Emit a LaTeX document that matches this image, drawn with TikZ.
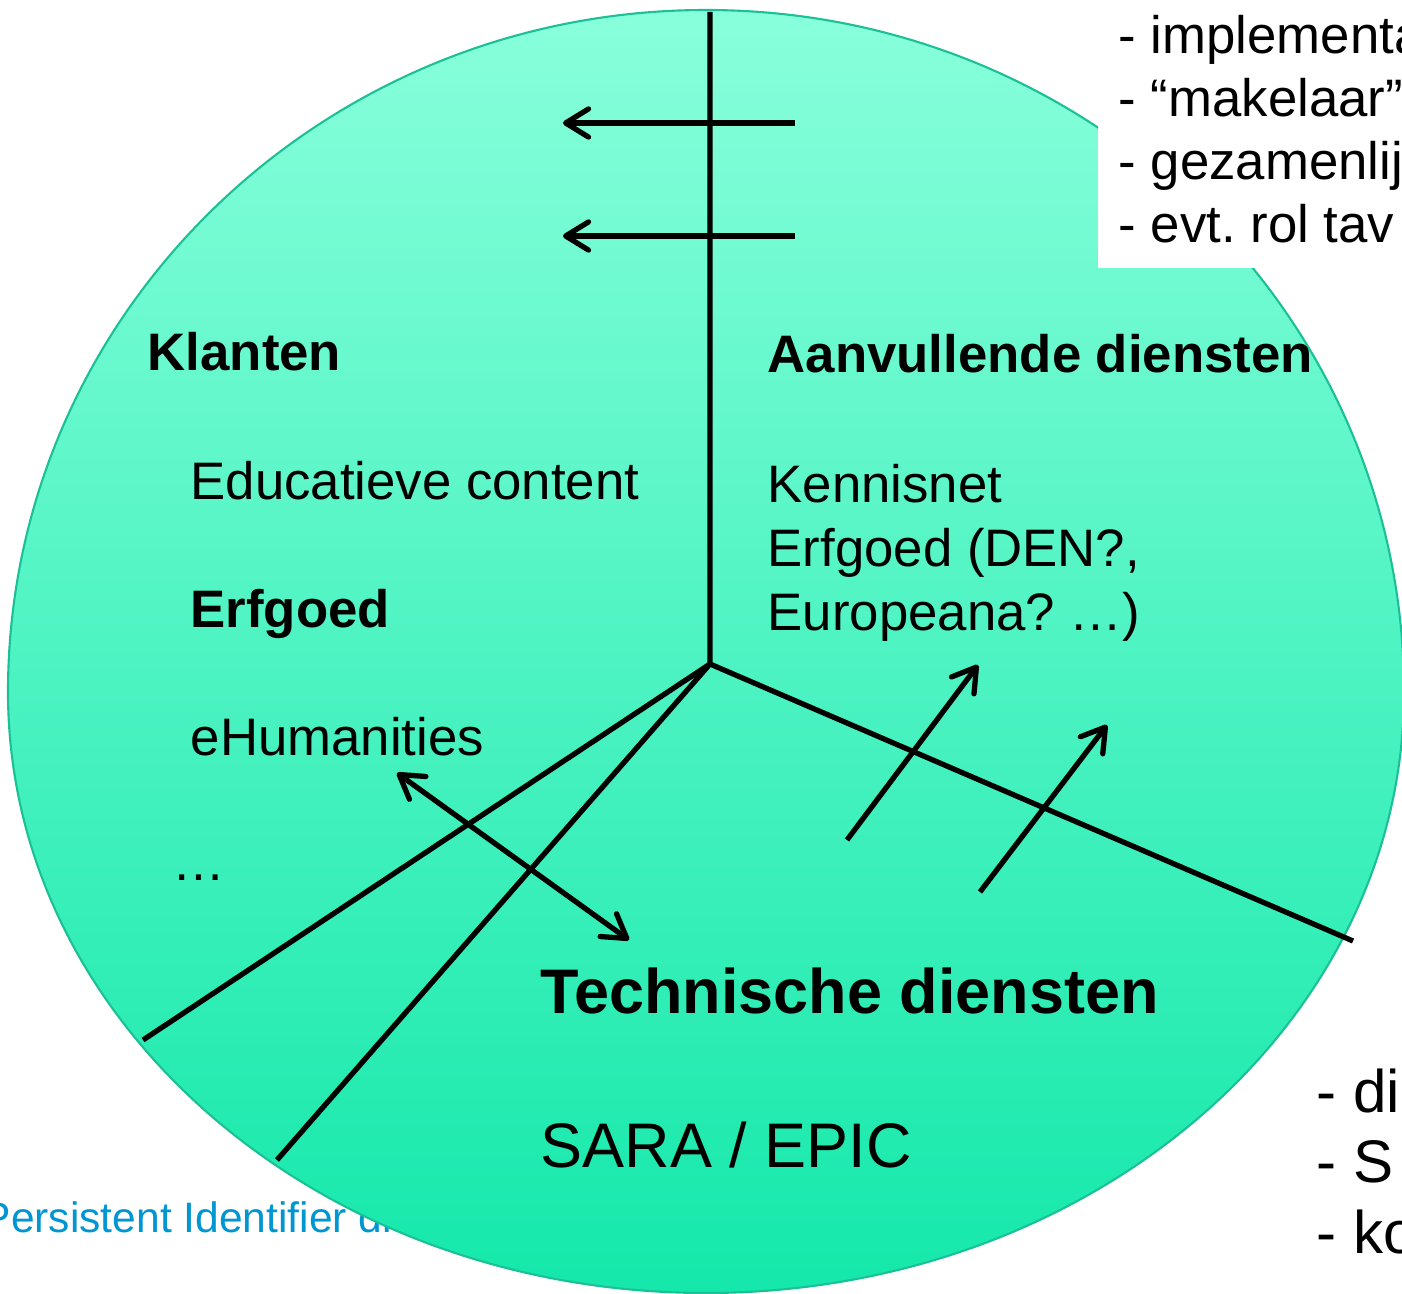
\documentclass[tikz,border=0pt]{standalone}
\usepackage{fontspec}
\setmainfont{Liberation Sans}
\usetikzlibrary{arrows.meta}
\frenchspacing

\definecolor{topgreen}{RGB}{136,255,219}
\definecolor{botgreen}{RGB}{20,232,170}
\definecolor{rimgreen}{RGB}{28,192,150}
\definecolor{pidblue}{RGB}{0,150,210}

\begin{document}
\begin{tikzpicture}[x=0.01cm, y=-0.01cm,
	lbl/.style={anchor=base west, inner sep=0pt, font=\fontsize{15}{18}\selectfont},
	head/.style={anchor=base west, inner sep=0pt, font=\fontsize{15}{18}\selectfont\bfseries},
	big/.style={anchor=base west, inner sep=0pt, font=\fontsize{17.9}{21.5}\selectfont},
	bighead/.style={big, font=\fontsize{17.9}{21.5}\selectfont\bfseries},
	side/.style={anchor=base west, inner sep=0pt, font=\fontsize{17.1}{20.5}\selectfont},
	spoke/.style={line width=1.5pt},
	flow/.style={-{Straight Barb[length=6.5pt,width=8pt,round]}},
	both/.style={{Straight Barb[length=6.5pt,width=8pt,round]}-{Straight Barb[length=6.5pt,width=8pt,round]}}]

	\useasboundingbox (0,0) rectangle (1402,1294);

	% text behind the sphere
	\node[anchor=base west, inner sep=0pt, text=pidblue, font=\fontsize{12.1}{14.5}\selectfont] (pid) at (-18,1232) {Persistent Identifier di};

	% the sphere
	\shade[top color=topgreen, bottom color=botgreen, draw=rimgreen, line width=0.6pt]
		(8,692) arc[start angle=180, end angle=360, x radius=698, y radius=682]
		arc[start angle=0, end angle=180, x radius=698, y radius=601] -- cycle;

	% box top right
	\fill[white] (1098,0) rectangle (1402,268);
	\node[lbl] (task1) at (1118,54) {- implementa};
	\node[lbl] (task2) at (1118,117) {- “makelaar”};
	\node[lbl] (task3) at (1118,180) {- gezamenlij};
	\node[lbl] (task4) at (1118,243) {- evt. rol tav};

	\node[side] (note1) at (1316,1112) {- di};
	\node[side] (note2) at (1316,1182) {- S};
	\node[side] (note3) at (1316,1253) {- ko};

	% sectors
	\node[head] (klanten) at (147,370) {Klanten};
	\node[lbl] (educ) at (190,499) {Educatieve content};
	\node[head] (erfgoed) at (190,627) {Erfgoed};
	\node[lbl] (ehum) at (190,755) {eHumanities};
	\node[lbl] (more) at (172,880) {…};

	\node[head] (aanv) at (767,373) {Aanvullende diensten};
	\node[lbl] (kennis) at (767,502) {Kennisnet};
	\node[lbl] (erfden) at (767,567) {Erfgoed (DEN?,};
	\node[lbl] (europ) at (767,630) {Europeana? …)};

	\node[bighead] (techn) at (540,1013) {Technische diensten};
	\node[big] (sara) at (540,1167) {SARA / EPIC};

	% spokes
	\coordinate (hub) at (710,664);
	\coordinate (spine) at (710,12);
	\coordinate (leftrim) at (143,1040);
	\coordinate (lowrim) at (277,1160);
	\coordinate (rightrim) at (1353,941);

	\draw[spoke]
		(hub) -- (spine)
		(hub) -- (leftrim)
		(hub) -- (lowrim)
		(hub) -- (rightrim);

	% arrows
	\coordinate (up1s) at (795,123);
	\coordinate (up1e) at (563,123);
	\coordinate (up2s) at (795,236);
	\coordinate (up2e) at (563,236);
	\coordinate (rt1s) at (847,840);
	\coordinate (rt1e) at (978,665);
	\coordinate (rt2s) at (980,892);
	\coordinate (rt2e) at (1107,725);
	\coordinate (lfa) at (397,773);
	\coordinate (lfb) at (629,940);

	\draw[spoke]
		(up1s) edge[flow] (up1e)
		(up2s) edge[flow] (up2e)
		(rt1s) edge[flow] (rt1e)
		(rt2s) edge[flow] (rt2e)
		(lfa) edge[both] (lfb);
\end{tikzpicture}
\end{document}
